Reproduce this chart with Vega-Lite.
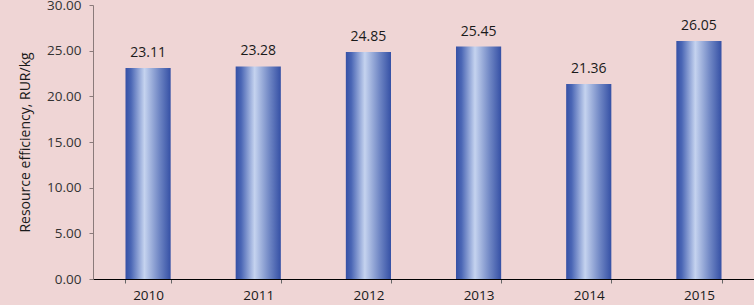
{
  "$schema": "https://vega.github.io/schema/vega-lite/v6.json",
  "autosize": {"type": "none"},
  "padding": {"left": 93, "top": 5, "right": 0, "bottom": 26},
  "width": 661,
  "height": 274,
  "background": "#efd5d5",
  "config": {"view": {"stroke": null}, "font": "Open Sans"},
  "data": {"values": [
    {"year": "2010", "value": 23.11},
    {"year": "2011", "value": 23.28},
    {"year": "2012", "value": 24.85},
    {"year": "2013", "value": 25.45},
    {"year": "2014", "value": 21.36},
    {"year": "2015", "value": 26.05}
  ]},
  "encoding": {
    "x": {"field": "year", "type": "nominal", "title": null,
      "scale": {"paddingInner": 0.59, "paddingOuter": 0.295},
      "axis": {"labelAngle": 0, "domainColor": "#000000", "tickBand": "extent", "tickColor": "#666666", "tickSize": 4, "labelFontSize": 13.5, "labelColor": "#1a1a1a", "labelPadding": 5}},
    "y": {"field": "value", "type": "quantitative", "title": "Resource efficiency, RUR/kg",
      "scale": {"domain": [0, 30]},
      "axis": {"values": [0, 5, 10, 15, 20, 25, 30], "format": ".2f", "grid": false, "domainColor": "#8a7a7a", "tickColor": "#8a7a7a", "tickSize": 4, "labelFontSize": 13.5, "labelColor": "#333333", "labelPadding": 8, "titleFontSize": 14, "titleFontWeight": "normal", "titleColor": "#1a1a1a", "titlePadding": 14}}
  },
  "layer": [
    {"mark": {"type": "bar", "color": {"gradient": "linear", "x1": 0, "x2": 1, "y1": 0, "y2": 0, "stops": [
      {"offset": 0, "color": "#3550a5"},
      {"offset": 0.12, "color": "#4a66b5"},
      {"offset": 0.42, "color": "#c5d3ef"},
      {"offset": 0.75, "color": "#6f86c4"},
      {"offset": 1, "color": "#3550a5"}
    ]}}},
    {"mark": {"type": "text", "dy": -15, "fontSize": 14, "color": "#1a1a1a"},
     "encoding": {"text": {"field": "value", "type": "quantitative", "format": ".2f"}}}
  ]
}
